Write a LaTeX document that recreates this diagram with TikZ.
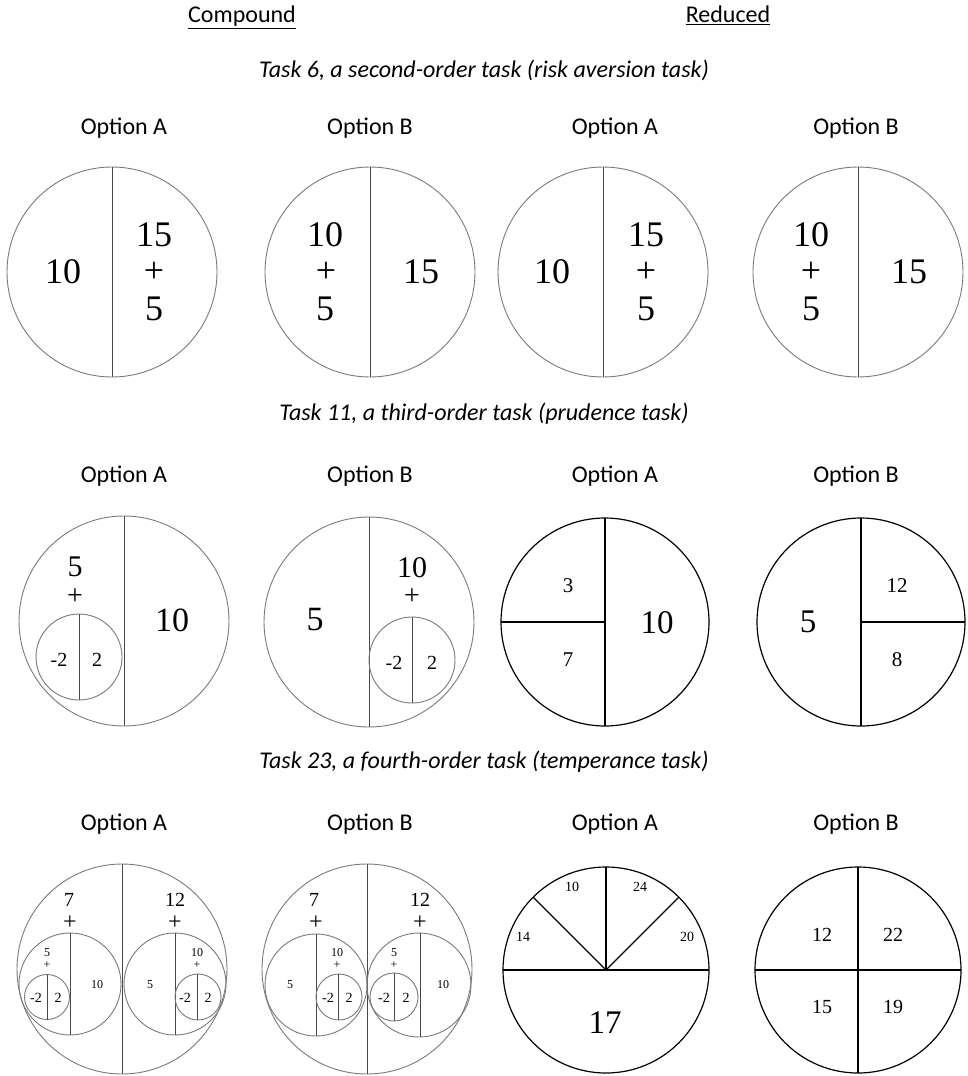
\documentclass[tikz,border=0pt]{standalone}
\usepackage{fontspec}
\setmainfont{Liberation Serif}
\newfontfamily\calib{Carlito}
\newcommand\fsz[1]{\fontsize{#1}{#1}\selectfont}
\begin{document}
\begin{tikzpicture}[x=1pt,y=-1pt,
  lab/.style={font=\calib\fsz{24}, inner sep=0pt},
  ttl/.style={font=\calib\itshape\fsz{24}, inner sep=0pt},
  gc/.style={draw=black!52, line width=0.9pt},
  gl/.style={draw=black!72, line width=1pt},
  bl/.style={draw=black, line width=1.2pt},
  num/.style={inner sep=0pt, font=\fsz{#1}},
]
\fill[white] (0,0) rectangle (968,1076);
\useasboundingbox (0,0) rectangle (968,1076);

% headings
\node[lab, anchor=base] (hc) at (242,23) {\underline{Compound}};
\node[lab, anchor=base] (hr) at (728,23) {\underline{Reduced}};
\node[ttl] (t6) at (484,70) {Task 6, a second-order task (risk aversion task)};
\node[ttl] (t11) at (484,414) {Task 11, a third-order task (prudence task)};
\node[ttl] (t23) at (484,762) {Task 23, a fourth-order task (temperance task)};

% option labels
\foreach \r/\y in {1/128,2/476,3/824}{
  \node[lab] (oa\r) at (124,\y) {Option A};
  \node[lab] (ob\r) at (370,\y) {Option B};
  \node[lab] (ra\r) at (615,\y) {Option A};
  \node[lab] (rb\r) at (856,\y) {Option B};
}

% ---------- Row 1 ----------
\draw[gc] (112,272) circle[radius=105pt];
\draw[gl] (112,167) -- (112,377);
\node[num=36] (a1l) at (63,272) {10};
\node[num=36] (a1r1) at (154,235) {15};
\node[num=36] (a1r2) at (154,272) {+};
\node[num=36] (a1r3) at (154,309) {5};

\draw[gc] (370,272) circle[radius=105pt];
\draw[gl] (370,167) -- (370,377);
\node[num=36] (b1l1) at (325,235) {10};
\node[num=36] (b1l2) at (326,272) {+};
\node[num=36] (b1l3) at (325,309) {5};
\node[num=36] (b1r) at (421,272) {15};

\draw[gc] (603,272) circle[radius=105pt];
\draw[gl] (603,167) -- (603,377);
\node[num=36] (c1l) at (552,272) {10};
\node[num=36] (c1r1) at (646,235) {15};
\node[num=36] (c1r2) at (646,272) {+};
\node[num=36] (c1r3) at (646,309) {5};

\draw[gc] (858,272) circle[radius=105pt];
\draw[gl] (858,167) -- (858,377);
\node[num=36] (d1l1) at (811,235) {10};
\node[num=36] (d1l2) at (811,272) {+};
\node[num=36] (d1l3) at (811,309) {5};
\node[num=36] (d1r) at (909,272) {15};

% ---------- Row 2 ----------
\draw[gc] (124,621) circle[radius=105pt];
\draw[gl] (124,516) -- (124,726);
\draw[gc] (79,657) circle[radius=43pt];
\draw[gl] (79,614) -- (79,700);
\node[num=30] (a2a) at (75,567) {5};
\node[num=28] (a2b) at (75,597) {+};
\node[num=20] (a2c) at (59,660) {-2};
\node[num=20] (a2d) at (97,660) {2};
\node[num=34] (a2e) at (172,620) {10};

\draw[gc] (369,622) circle[radius=105pt];
\draw[gl] (369,517) -- (369,727);
\draw[gc] (412,660) circle[radius=43pt];
\draw[gl] (412,617) -- (412,703);
\node[num=30] (b2a) at (412,568) {10};
\node[num=28] (b2b) at (412,597) {+};
\node[num=20] (b2c) at (394,663) {-2};
\node[num=20] (b2d) at (432,663) {2};
\node[num=34] (b2e) at (315,620) {5};

\draw[bl] (605,622) circle[radius=104pt];
\draw[bl] (605,518) -- (605,726);
\draw[bl] (501,622) -- (605,622);
\node[num=21] (c2a) at (568,586) {3};
\node[num=21] (c2b) at (568,660) {7};
\node[num=33] (c2c) at (657,623) {10};

\draw[bl] (861,622) circle[radius=104pt];
\draw[bl] (861,518) -- (861,726);
\draw[bl] (861,622) -- (965,622);
\node[num=33] (d2a) at (808,622) {5};
\node[num=21] (d2b) at (897,586) {12};
\node[num=21] (d2c) at (897,660) {8};

% ---------- Row 3 ----------
% compound A
\draw[gc] (122,969) circle[radius=105pt];
\draw[gl] (122,864) -- (122,1074);
\draw[gc] (70,984) circle[radius=51pt];
\draw[gl] (70,933) -- (70,1035);
\node[num=20] (a3a) at (69,900) {7};
\node[num=24] (a3b) at (70,923) {+};
\draw[gc] (47,997) circle[radius=22.5pt];
\draw[gl] (47,974.5) -- (47,1019.5);
\node[num=12] (a3c) at (47,953) {5};
\node[num=12] (a3d) at (47,965) {+};
\node[num=14] (a3e) at (36,998) {-2};
\node[num=14] (a3f) at (58,998) {2};
\node[num=12] (a3g) at (97,985) {10};
\draw[gc] (175,984) circle[radius=51pt];
\draw[gl] (175,933) -- (175,1035);
\node[num=20] (a3h) at (175,900) {12};
\node[num=24] (a3i) at (175,923) {+};
\draw[gc] (198,997) circle[radius=23pt];
\draw[gl] (197,974) -- (197,1020);
\node[num=12] (a3j) at (197,953) {10};
\node[num=12] (a3k) at (197,965) {+};
\node[num=14] (a3l) at (185,998) {-2};
\node[num=14] (a3m) at (208,998) {2};
\node[num=12] (a3n) at (150,985) {5};

% compound B
\draw[gc] (367,969) circle[radius=105pt];
\draw[gl] (367,864) -- (367,1074);
\draw[gc] (316,985) circle[radius=51pt];
\draw[gl] (316,934) -- (316,1036);
\node[num=20] (b3a) at (314,900) {7};
\node[num=24] (b3b) at (316,923) {+};
\node[num=12] (b3c) at (290,985) {5};
\draw[gc] (339,997) circle[radius=23pt];
\draw[gl] (338,974) -- (338,1020);
\node[num=12] (b3d) at (337,953) {10};
\node[num=12] (b3e) at (337,965) {+};
\node[num=14] (b3f) at (328,998) {-2};
\node[num=14] (b3g) at (349,998) {2};
\draw[gc] (419,985) circle[radius=52pt];
\draw[gl] (420,933) -- (420,1037);
\node[num=20] (b3h) at (420,900) {12};
\node[num=24] (b3i) at (420,923) {+};
\node[num=12] (b3j) at (443,985) {10};
\draw[gc] (394,997) circle[radius=24pt];
\draw[gl] (394,973) -- (394,1021);
\node[num=12] (b3k) at (394,953) {5};
\node[num=12] (b3l) at (394,965) {+};
\node[num=14] (b3m) at (384,998) {-2};
\node[num=14] (b3n) at (406,998) {2};

% reduced A
\draw[bl] (606,970) circle[radius=103pt];
\draw[bl] (503,970) -- (709,970);
\draw[bl] (606,970) -- (606,867);
\draw[bl] (606,970) -- (533,897);
\draw[bl] (606,970) -- (679,897);
\node[num=14] (c3a) at (572,887) {10};
\node[num=14] (c3b) at (640,887) {24};
\node[num=14] (c3c) at (523,937) {14};
\node[num=14] (c3d) at (687,937) {20};
\node[num=33] (c3e) at (605,1023) {17};

% reduced B
\draw[bl] (858,970) circle[radius=103pt];
\draw[bl] (755,970) -- (961,970);
\draw[bl] (858,867) -- (858,1073);
\node[num=20] (d3a) at (822,935) {12};
\node[num=20] (d3b) at (893,935) {22};
\node[num=20] (d3c) at (822,1007) {15};
\node[num=20] (d3d) at (893,1007) {19};
\end{tikzpicture}
\end{document}
